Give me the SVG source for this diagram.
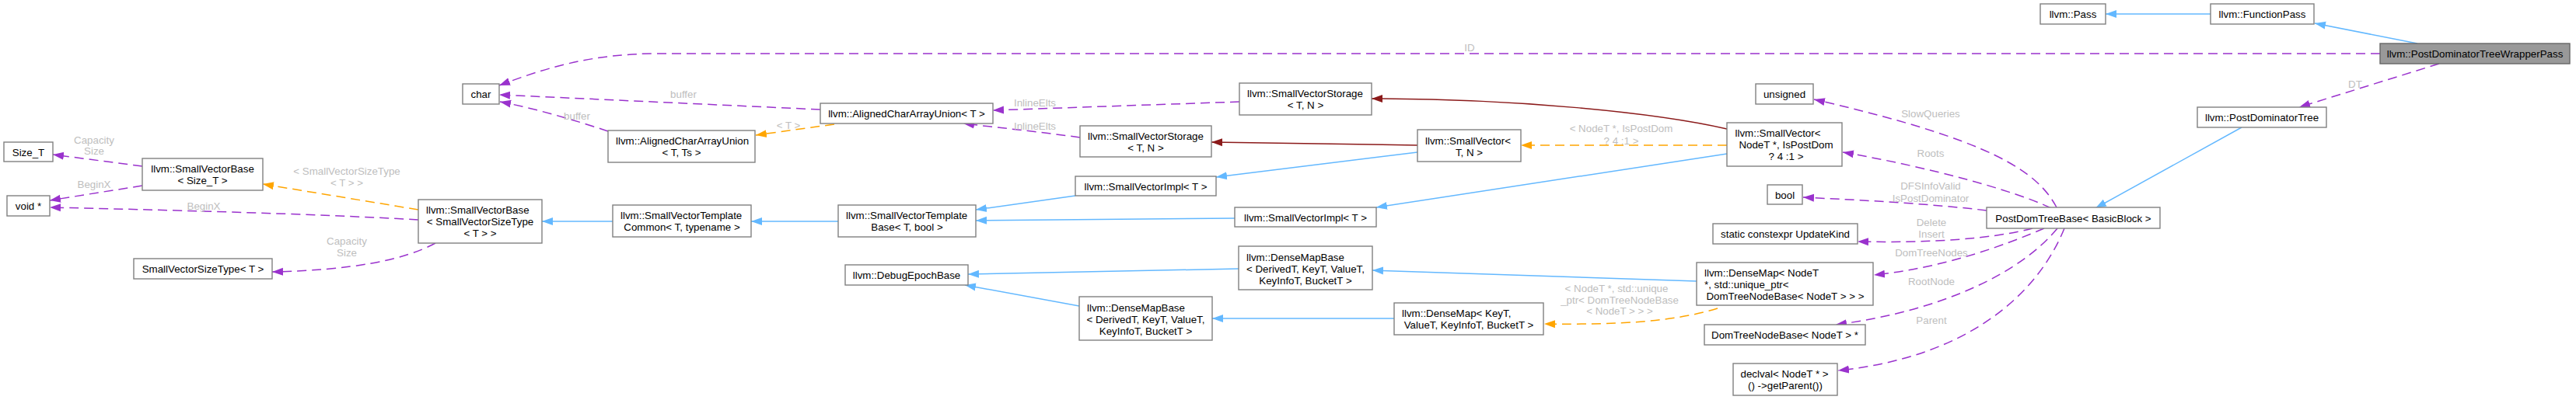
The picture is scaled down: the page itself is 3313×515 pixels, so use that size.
<svg xmlns="http://www.w3.org/2000/svg" width="3313" height="515" viewBox="0 0 3313 515">
<style>
text{font-family:"Liberation Sans",Arial,Helvetica,sans-serif;font-size:13.33px;fill:#000}
.n rect{fill:#fff;stroke:#808080;stroke-width:1.4}
.n.hl rect{fill:#999;stroke:#666}
.m{text-anchor:middle}
.l{fill:#bebebe;text-anchor:middle}
.e path{fill:none;stroke-width:1.5}
.e path.p{stroke:#9a32cd;stroke-dasharray:12,7;marker-end:url(#ap)}
.e path.o{stroke:#ffa500;stroke-dasharray:12,7;marker-end:url(#ao)}
.e path.b{stroke:#63b8ff;marker-end:url(#ab)}
.e path.r{stroke:#8b1a1a;marker-end:url(#ar)}
</style>
<defs>
<marker id="ap" markerWidth="15" markerHeight="11" refX="14" refY="5.5" orient="auto" markerUnits="userSpaceOnUse"><path d="M0,0.5 L14,5.5 L0,10.5 z" fill="#9a32cd"/></marker>
<marker id="ao" markerWidth="15" markerHeight="11" refX="14" refY="5.5" orient="auto" markerUnits="userSpaceOnUse"><path d="M0,0.5 L14,5.5 L0,10.5 z" fill="#ffa500"/></marker>
<marker id="ab" markerWidth="15" markerHeight="11" refX="14" refY="5.5" orient="auto" markerUnits="userSpaceOnUse"><path d="M0,0.5 L14,5.5 L0,10.5 z" fill="#63b8ff"/></marker>
<marker id="ar" markerWidth="15" markerHeight="11" refX="14" refY="5.5" orient="auto" markerUnits="userSpaceOnUse"><path d="M0,0.5 L14,5.5 L0,10.5 z" fill="#8b1a1a"/></marker>
</defs>
<rect width="3313" height="515" fill="#fff"/>

<g id="edges" class="e">
<path class="p" d="M3061,69 L846,69 C760,69 700,88 642,110"/>
<path class="p" d="M1055,141 L642,122"/>
<path class="p" d="M782,169 C740,155 690,140 643,131"/>
<path class="o" d="M1073,160 L972,174"/>
<path class="p" d="M1594,131 L1277,142"/>
<path class="p" d="M1389,177 C1340,170 1290,165 1239,159"/>
<path class="r" d="M1823,187 L1558,183"/>
<path class="b" d="M1823,196 L1564,228"/>
<path class="b" d="M1383,252 L1255,270"/>
<path class="b" d="M1588,281 L1255,284"/>
<path class="b" d="M1078,285 L966,285"/>
<path class="b" d="M788,285 L697,285"/>
<path class="o" d="M538,270 L338,237"/>
<path class="p" d="M538,283 C400,275 200,270 64,267"/>
<path class="p" d="M560,313 C520,335 450,348 350,350"/>
<path class="p" d="M183,214 L68,199"/>
<path class="p" d="M183,239 L64,258"/>
<path class="b" d="M1593,346 L1245,353"/>
<path class="b" d="M1388,394 L1241,367"/>
<path class="b" d="M1793,410 L1559,410"/>
<path class="b" d="M2182,362 L1765,348"/>
<path class="o" d="M2209,397 C2150,415 2080,418 1986,417"/>
<path class="r" d="M2221,166 C2130,145 1950,127 1764,127"/>
<path class="o" d="M2221,187 L1956,187"/>
<path class="b" d="M2221,198 L1770,267"/>
<path class="b" d="M2843,18 L2708,18"/>
<path class="b" d="M3109,56 L2977,30"/>
<path class="p" d="M3137,82 L2957,138"/>
<path class="b" d="M2883,164 L2695,268"/>
<path class="p" d="M2645,267 C2620,220 2560,180 2333,128"/>
<path class="p" d="M2638,268 C2590,245 2480,215 2370,196"/>
<path class="p" d="M2555,271 C2480,262 2400,258 2319,254"/>
<path class="p" d="M2614,294 C2560,308 2480,313 2389,311"/>
<path class="p" d="M2629,294 C2580,315 2500,345 2410,354"/>
<path class="p" d="M2646,294 C2600,350 2500,400 2361,418"/>
<path class="p" d="M2655,294 C2620,380 2530,460 2364,477"/>
<text class="l" x="1890" y="66.2">ID</text>
<text class="l" x="879" y="126.2">buffer</text>
<text class="l" x="742" y="153.5">buffer</text>
<text class="l" x="1014" y="165.5">&lt; T &gt;</text>
<text class="l" x="1331" y="137.2">InlineElts</text>
<text class="l" x="1331" y="167.2">InlineElts</text>
<text class="l" x="446" y="224.5">&lt; SmallVectorSizeType</text>
<text class="l" x="446" y="239.5">&lt; T &gt; &gt;</text>
<text class="l" x="262" y="269.5">BeginX</text>
<text class="l" x="121" y="242.2">BeginX</text>
<text class="l" x="446" y="315.2">Capacity</text>
<text class="l" x="446" y="330.2">Size</text>
<text class="l" x="121" y="184.5">Capacity</text>
<text class="l" x="121" y="199.1">Size</text>
<text class="l" x="2085" y="170.2">&lt; NodeT *, IsPostDom</text>
<text class="l" x="2085" y="185.5">? 4 :1 &gt;</text>
<text class="l" x="2079" y="375.5">&lt; NodeT *, std::unique</text>
<text class="l" x="2083" y="390.5">_ptr&lt; DomTreeNodeBase</text>
<text class="l" x="2083" y="405.2">&lt; NodeT &gt; &gt; &gt;</text>
<text class="l" x="3029" y="112.8">DT</text>
<text class="l" x="2483" y="151.2">SlowQueries</text>
<text class="l" x="2483" y="202.2">Roots</text>
<text class="l" x="2483" y="243.8">DFSInfoValid</text>
<text class="l" x="2483" y="259.5">IsPostDominator</text>
<text class="l" x="2484" y="291.2">Delete</text>
<text class="l" x="2484" y="306.2">Insert</text>
<text class="l" x="2484" y="329.5">DomTreeNodes</text>
<text class="l" x="2484" y="367.2">RootNode</text>
<text class="l" x="2484" y="417.2">Parent</text>
</g>

<g id="n_wrapper" class="n hl"><rect x="3061" y="56" width="244" height="26"/><text class="m" x="3183" y="73.5">llvm::PostDominatorTreeWrapperPass</text></g>
<g id="n_functionpass" class="n"><rect x="2843" y="5" width="133" height="26"/><text class="m" x="2909.5" y="22.5">llvm::FunctionPass</text></g>
<g id="n_pass" class="n"><rect x="2624" y="5" width="84" height="26"/><text class="m" x="2666" y="22.5">llvm::Pass</text></g>
<g id="n_char" class="n"><rect x="595" y="108" width="47" height="26"/><text class="m" x="618.5" y="125.5">char</text></g>
<g id="n_pdt" class="n"><rect x="2826" y="138" width="166" height="26"/><text class="m" x="2909" y="155.5">llvm::PostDominatorTree</text></g>
<g id="n_pdtb" class="n"><rect x="2555" y="267" width="223" height="27"/><text class="m" x="2666.5" y="285.5">PostDomTreeBase&lt; BasicBlock &gt;</text></g>
<g id="n_unsigned" class="n"><rect x="2258" y="108" width="74" height="26"/><text class="m" x="2295" y="125.5">unsigned</text></g>
<g id="n_svroots" class="n"><rect x="2221" y="158" width="148" height="56"/><text x="2231.5" y="176.2">llvm::SmallVector&lt;</text><text class="m" x="2297" y="191.2">NodeT *, IsPostDom</text><text class="m" x="2297" y="206.2">? 4 :1 &gt;</text></g>
<g id="n_bool" class="n"><rect x="2273" y="238" width="45" height="25"/><text class="m" x="2295.5" y="255.5">bool</text></g>
<g id="n_updatekind" class="n"><rect x="2203" y="288" width="186" height="26"/><text class="m" x="2296" y="306">static constexpr UpdateKind</text></g>
<g id="n_densemapnodes" class="n"><rect x="2182" y="338" width="227" height="55"/><text x="2192" y="356.2">llvm::DenseMap&lt; NodeT</text><text x="2192" y="371.2">*, std::unique_ptr&lt;</text><text class="m" x="2296" y="386.2">DomTreeNodeBase&lt; NodeT &gt; &gt; &gt;</text></g>
<g id="n_domtreenodebase" class="n"><rect x="2192" y="418" width="207" height="26"/><text class="m" x="2295.5" y="436">DomTreeNodeBase&lt; NodeT &gt; *</text></g>
<g id="n_declval" class="n"><rect x="2229" y="468" width="134" height="41"/><text x="2238.5" y="486.2">declval&lt; NodeT * &gt;</text><text class="m" x="2296" y="501.2">() -&gt;getParent())</text></g>
<g id="n_smallvector" class="n"><rect x="1823" y="167" width="133" height="41"/><text x="1833" y="185.5">llvm::SmallVector&lt;</text><text class="m" x="1889.5" y="200.5">T, N &gt;</text></g>
<g id="n_svstorage1" class="n"><rect x="1594" y="107" width="170" height="41"/><text x="1604" y="125.2">llvm::SmallVectorStorage</text><text class="m" x="1679" y="140.2">&lt; T, N &gt;</text></g>
<g id="n_svstorage2" class="n"><rect x="1389" y="162" width="169" height="40"/><text x="1399" y="179.5">llvm::SmallVectorStorage</text><text class="m" x="1473.5" y="194.5">&lt; T, N &gt;</text></g>
<g id="n_acau" class="n"><rect x="1055" y="133" width="222" height="26"/><text class="m" x="1166" y="150.7">llvm::AlignedCharArrayUnion&lt; T &gt;</text></g>
<g id="n_acauts" class="n"><rect x="782" y="168" width="189" height="41"/><text x="792" y="186.2">llvm::AlignedCharArrayUnion</text><text class="m" x="876.5" y="201.2">&lt; T, Ts &gt;</text></g>
<g id="n_svimpl1" class="n"><rect x="1383" y="227" width="181" height="25"/><text class="m" x="1473.5" y="244.5">llvm::SmallVectorImpl&lt; T &gt;</text></g>
<g id="n_svimpl2" class="n"><rect x="1588" y="267" width="182" height="25"/><text class="m" x="1679" y="284.5">llvm::SmallVectorImpl&lt; T &gt;</text></g>
<g id="n_svtb" class="n"><rect x="1078" y="264" width="177" height="41"/><text x="1088" y="282.2">llvm::SmallVectorTemplate</text><text class="m" x="1166.5" y="297.2">Base&lt; T, bool &gt;</text></g>
<g id="n_svtc" class="n"><rect x="788" y="264" width="178" height="41"/><text x="798" y="282.2">llvm::SmallVectorTemplate</text><text class="m" x="877" y="297.2">Common&lt; T, typename &gt;</text></g>
<g id="n_svbsvst" class="n"><rect x="538" y="257" width="159" height="56"/><text x="548" y="275.2">llvm::SmallVectorBase</text><text class="m" x="617.5" y="290.2">&lt; SmallVectorSizeType</text><text class="m" x="617.5" y="305.2">&lt; T &gt; &gt;</text></g>
<g id="n_svbsizet" class="n"><rect x="183" y="204" width="155" height="41"/><text class="m" x="260.5" y="222.2">llvm::SmallVectorBase</text><text class="m" x="260.5" y="237">&lt; Size_T &gt;</text></g>
<g id="n_sizet" class="n"><rect x="5" y="183" width="63" height="25"/><text class="m" x="36.5" y="200.5">Size_T</text></g>
<g id="n_voidptr" class="n"><rect x="9" y="252" width="55" height="26"/><text class="m" x="36.5" y="269.5">void *</text></g>
<g id="n_svsizetype" class="n"><rect x="172" y="333" width="178" height="26"/><text class="m" x="261" y="350.5">SmallVectorSizeType&lt; T &gt;</text></g>
<g id="n_debugepoch" class="n"><rect x="1087" y="341" width="158" height="26"/><text class="m" x="1166" y="358.5">llvm::DebugEpochBase</text></g>
<g id="n_dmb1" class="n"><rect x="1593" y="317" width="172" height="56"/><text x="1603" y="335.5">llvm::DenseMapBase</text><text class="m" x="1679" y="350.5">&lt; DerivedT, KeyT, ValueT,</text><text class="m" x="1679" y="365.5">KeyInfoT, BucketT &gt;</text></g>
<g id="n_dmb2" class="n"><rect x="1388" y="382" width="171" height="56"/><text x="1398" y="400.5">llvm::DenseMapBase</text><text class="m" x="1473.5" y="415.5">&lt; DerivedT, KeyT, ValueT,</text><text class="m" x="1473.5" y="430.5">KeyInfoT, BucketT &gt;</text></g>
<g id="n_densemapkey" class="n"><rect x="1793" y="390" width="192" height="41"/><text x="1803" y="407.8">llvm::DenseMap&lt; KeyT,</text><text class="m" x="1889" y="422.8">ValueT, KeyInfoT, BucketT &gt;</text></g>
</svg>
